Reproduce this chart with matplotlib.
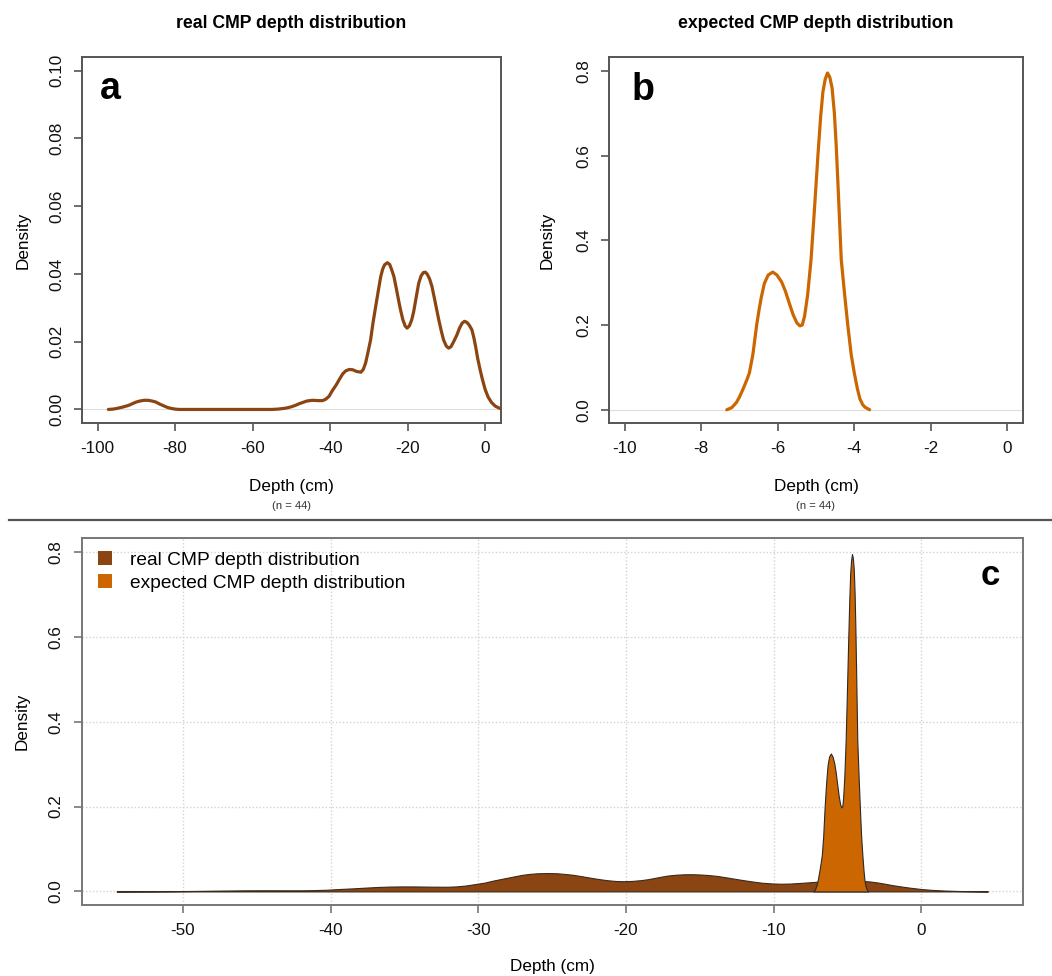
import matplotlib
matplotlib.use("Agg")
import matplotlib.pyplot as plt
from matplotlib.lines import Line2D
from matplotlib.patches import Patch

# ---- data -------------------------------------------------------------
# kernel density of the observed CMP depths (cm), n = 44
real_depth = [-97.2, -96.0, -95.0, -93.5, -92.0, -91.0, -90.0, -89.0, -88.0, -87.0,
              -86.0, -85.0, -84.0, -83.0, -82.0, -81.0, -80.0, -79.0,
              -55.0, -53.5, -52.0, -51.0, -50.0, -49.0, -48.0, -47.0, -46.0,
              -44.6, -43.0, -42.0, -41.2, -40.3, -39.5, -38.5, -37.7, -36.8,
              -36.0, -35.1, -34.2, -33.2, -32.1, -31.5, -30.9, -30.3, -29.6,
              -29.0, -28.3, -27.6, -27.0, -26.5, -26.0, -25.3, -24.7, -24.2,
              -23.6, -23.0, -22.4, -21.9, -21.3, -20.7, -20.2, -19.6, -19.0,
              -18.5, -17.8, -17.2, -16.6, -16.0, -15.5, -15.0, -14.4, -13.8,
              -13.2, -12.6, -12.05, -11.4, -10.8, -10.1, -9.5, -8.9, -8.2,
              -7.36, -6.7, -6.0, -5.4, -4.8, -4.2, -3.5, -3.0, -2.5, -2.0,
              -1.4, -0.8, -0.08, 0.7, 1.6, 2.5, 3.33, 4.5]
real_density = [0.0, 0.0001, 0.0003, 0.0007, 0.0012, 0.0017, 0.0022, 0.0025, 0.0027, 0.0027,
                0.0025, 0.0022, 0.0016, 0.0011, 0.0006, 0.0003, 0.0001, 0.0,
                0.0, 0.0001, 0.0003, 0.0005, 0.0008, 0.0012, 0.0017, 0.0021, 0.0025,
                0.0027, 0.0026, 0.0026, 0.0030, 0.0039, 0.0055, 0.0072, 0.0088, 0.0105,
                0.0114, 0.0118, 0.0117, 0.0112, 0.0110, 0.0118, 0.0137, 0.0168, 0.0206,
                0.0255, 0.0304, 0.0352, 0.0392, 0.0414, 0.0427, 0.0433, 0.0428, 0.0413,
                0.0392, 0.0358, 0.0322, 0.0294, 0.0265, 0.0246, 0.0240, 0.0247, 0.0265,
                0.0289, 0.0335, 0.0373, 0.0394, 0.0404, 0.0405, 0.0399, 0.0385, 0.0363,
                0.0330, 0.0296, 0.0265, 0.0232, 0.0205, 0.0187, 0.0181, 0.0185, 0.0200,
                0.0220, 0.0240, 0.0255, 0.0260, 0.0257, 0.0249, 0.0235, 0.0212, 0.0183, 0.0150,
                0.0118, 0.0089, 0.0059, 0.0036, 0.0020, 0.0010, 0.0005, 0.0]
# lower bound of the density estimate shown in the comparison panel
real_from_c = -54.5

# kernel density of the expected CMP depths (cm), n = 44
exp_depth = [-7.33, -7.2, -7.08, -7.0, -6.9, -6.8, -6.74, -6.65, -6.55, -6.48,
             -6.43, -6.35, -6.25, -6.13, -6.02, -5.9, -5.8, -5.7, -5.6, -5.5,
             -5.42, -5.36, -5.3, -5.22, -5.13, -5.05, -4.95, -4.88, -4.82, -4.76,
             -4.7, -4.64, -4.58, -4.52, -4.47, -4.42, -4.34, -4.25, -4.17, -4.08,
             -4.0, -3.92, -3.85, -3.78, -3.72, -3.6]
exp_density = [0.0, 0.005, 0.017, 0.03, 0.05, 0.072, 0.087, 0.13, 0.2, 0.24,
               0.265, 0.298, 0.318, 0.325, 0.318, 0.302, 0.28, 0.252, 0.225, 0.205,
               0.198, 0.2, 0.22, 0.27, 0.354, 0.46, 0.6, 0.69, 0.75, 0.78,
               0.795, 0.785, 0.76, 0.70, 0.62, 0.52, 0.354, 0.27, 0.2, 0.13,
               0.087, 0.05, 0.025, 0.012, 0.006, 0.0]

n_obs = 44
label_real = "real CMP depth distribution"
label_exp = "expected CMP depth distribution"

ticks_a_x = [-100, -80, -60, -40, -20, 0]
ticks_a_y = [0.00, 0.02, 0.04, 0.06, 0.08, 0.10]
ticks_b_x = [-10, -8, -6, -4, -2, 0]
ticks_b_y = [0.0, 0.2, 0.4, 0.6, 0.8]
ticks_c_x = [-50, -40, -30, -20, -10, 0]
ticks_c_y = [0.0, 0.2, 0.4, 0.6, 0.8]

# ---- style ------------------------------------------------------------
BROWN = "#8B4513"
ORANGE = "#CC6600"
BOX = "#555555"
plt.rcParams["font.family"] = ["Liberation Sans", "DejaVu Sans"]
plt.rcParams["axes.unicode_minus"] = False

W, H = 1052, 976
fig = plt.figure(figsize=(W / 100, H / 100), dpi=100)


def px_axes(left, top, right, bottom):
    return fig.add_axes([left / W, 1 - bottom / H, (right - left) / W, (bottom - top) / H])


def fx(x):
    return x / W


def fy(y):
    return 1 - y / H


def style_axes(ax, boxcolor=BOX):
    for s in ax.spines.values():
        s.set_color(boxcolor)
        s.set_linewidth(1.4)
    ax.tick_params(direction="out", length=6, width=1.2, color=boxcolor,
                   labelsize=12.3, labelcolor="#111111")
    ax.tick_params(axis="x", pad=7)
    ax.tick_params(axis="y", pad=7, labelrotation=90)
    for lab in ax.get_yticklabels():
        lab.set_va("center")


def r_limits(lo, hi):
    span = hi - lo
    return lo - 0.04 * span, hi + 0.04 * span


# ---- panel a ----------------------------------------------------------
ax_a = px_axes(82, 57, 501, 423)
ax_a.axhline(0, color="#dddddd", lw=0.8, zorder=1)
ax_a.plot(real_depth, real_density, color=BROWN, lw=2.3,
          solid_capstyle="round", solid_joinstyle="round", zorder=3)
ax_a.set_xlim(*r_limits(-100, 0))
ax_a.set_ylim(*r_limits(0, 0.10))
ax_a.set_xticks(ticks_a_x)
ax_a.set_xticklabels([f"{t:d}" for t in ticks_a_x])
ax_a.set_yticks(ticks_a_y)
ax_a.set_yticklabels([f"{t:.2f}" for t in ticks_a_y])
style_axes(ax_a)

# ---- panel b ----------------------------------------------------------
ax_b = px_axes(609.3, 57.3, 1022.7, 423.3)
ax_b.axhline(0, color="#dddddd", lw=0.8, zorder=1)
ax_b.plot(exp_depth, exp_density, color=ORANGE, lw=2.3,
          solid_capstyle="round", solid_joinstyle="round", zorder=3)
ax_b.set_xlim(*r_limits(-10, 0))
ax_b.set_ylim(*r_limits(0, 0.8))
ax_b.set_xticks(ticks_b_x)
ax_b.set_xticklabels([f"{t:d}" for t in ticks_b_x])
ax_b.set_yticks(ticks_b_y)
ax_b.set_yticklabels([f"{t:.1f}" for t in ticks_b_y])
style_axes(ax_b)

# ---- panel c ----------------------------------------------------------
ax_c = px_axes(81.7, 538.3, 1022.7, 905)
c_depth = [real_from_c] + [d for d in real_depth if d >= real_from_c]
c_density = [0.0] + [v for d, v in zip(real_depth, real_density) if d >= real_from_c]
for t in ticks_c_x:
    ax_c.axvline(t, color="#d3d3d3", lw=1.0, ls=(0, (1, 1.5)), zorder=0)
for t in ticks_c_y:
    ax_c.axhline(t, color="#d3d3d3", lw=1.0, ls=(0, (1, 1.5)), zorder=0)
ax_c.fill_between(c_depth, 0, c_density, facecolor=BROWN, edgecolor="#3a2a1a",
                  lw=0.8, zorder=2)
ax_c.fill_between(exp_depth, 0, exp_density, facecolor=ORANGE, edgecolor="#2a2a2a",
                  lw=0.8, zorder=3)
ax_c.set_xlim(*r_limits(min(c_depth), max(c_depth)))
ax_c.set_ylim(*r_limits(0, 0.8))
ax_c.set_xticks(ticks_c_x)
ax_c.set_xticklabels([f"{t:d}" for t in ticks_c_x])
ax_c.set_yticks(ticks_c_y)
ax_c.set_yticklabels([f"{t:.1f}" for t in ticks_c_y])
style_axes(ax_c, boxcolor="#777777")

handles = [Patch(facecolor=BROWN, edgecolor="none", label=label_real),
           Patch(facecolor=ORANGE, edgecolor="none", label=label_exp)]
ax_c.legend(handles=handles, loc="upper left", frameon=False, fontsize=13.8,
            handlelength=0.75, handleheight=0.75, handletextpad=0.9,
            labelspacing=0.3, borderpad=0, borderaxespad=0,
            bbox_to_anchor=(fx(98), fy(551)), bbox_transform=fig.transFigure)

# ---- titles, axis labels, panel letters -------------------------------
fig.text(fx(291.5), fy(23.5), label_real, ha="center", va="center",
         fontsize=12.7, fontweight="bold")
fig.text(fx(816), fy(23.5), label_exp, ha="center", va="center",
         fontsize=12.7, fontweight="bold")

for cx in (291.5, 816):
    fig.text(fx(cx), fy(487), "Depth (cm)", ha="center", va="center", fontsize=12.3)
    fig.text(fx(cx), fy(506), f"(n = {n_obs})", ha="center", va="center",
             fontsize=8.1, color="#333333")
fig.text(fx(552), fy(966), "Depth (cm)", ha="center", va="center", fontsize=12.3)

fig.text(fx(23), fy(240), "Density", ha="center", va="center", rotation=90, fontsize=12.3)
fig.text(fx(547.5), fy(240), "Density", ha="center", va="center", rotation=90, fontsize=12.3)
fig.text(fx(22.5), fy(721), "Density", ha="center", va="center", rotation=90, fontsize=12.3)

fig.text(fx(110), fy(99), "a", ha="center", va="baseline", fontsize=27, fontweight="bold")
fig.text(fx(643), fy(100.5), "b", ha="center", va="baseline", fontsize=27, fontweight="bold")
fig.text(fx(990), fy(585), "c", ha="center", va="baseline", fontsize=25, fontweight="bold")

# separator between the single-distribution panels and the comparison
fig.add_artist(Line2D([fx(9), fx(1052)], [fy(520.3), fy(520.3)],
                      color="#555555", lw=1.6))

fig.savefig("out.png", dpi=100, facecolor="white")
